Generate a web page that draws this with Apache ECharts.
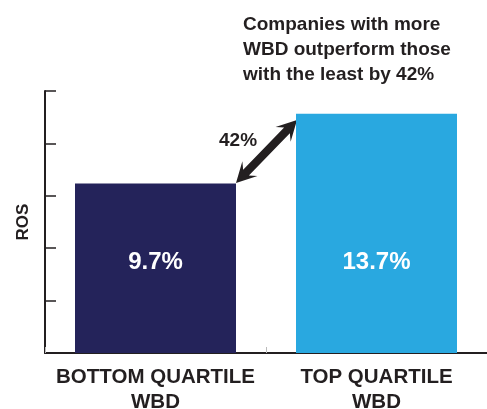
<!DOCTYPE html>
<html>
<head>
<meta charset="utf-8">
<script src="https://cdn.jsdelivr.net/npm/echarts@6/dist/echarts.min.js"></script>
<style>
html,body{margin:0;padding:0;background:#fff;}
#chart{width:487px;height:409px;}
</style>
</head>
<body>
<div id="chart"></div>
<script>
const categories = ['BOTTOM QUARTILE\nWBD', 'TOP QUARTILE\nWBD'];
const rosValues = [9.7, 13.7];
const valueLabels = ['9.7%', '13.7%'];
const barColors = ['#24235a', '#29a8e0'];
const yMin = 0, yMax = 15, yInterval = 3;
const titleLines = ['Companies with more', 'WBD outperform those', 'with the least by 42%'];
const gapLabel = '42%';

const FONT = '"Liberation Sans", Arial, Helvetica, sans-serif';
const INK = '#231f20';

function arrowPoints(p1, p2, sw, hl, hw) {
  const dx = p2[0] - p1[0], dy = p2[1] - p1[1];
  const L = Math.hypot(dx, dy);
  const u = [dx / L, dy / L], n = [-u[1], u[0]];
  const at = (p, a, b) => [p[0] + u[0] * a + n[0] * b, p[1] + u[1] * a + n[1] * b];
  return [
    p1, at(p1, hl, hw), at(p1, hl * 0.72, sw), at(p2, -hl * 0.72, sw), at(p2, -hl, hw),
    p2, at(p2, -hl, -hw), at(p2, -hl * 0.72, -sw), at(p1, hl * 0.72, -sw), at(p1, hl, -hw)
  ];
}

const chart = echarts.init(document.getElementById('chart'));
chart.setOption({
  animation: false,
  title: {
    text: titleLines.join('\n'),
    left: 238, top: 7,
    textStyle: { fontFamily: FONT, fontSize: 19, fontWeight: 'bold', color: INK, lineHeight: 25 }
  },
  grid: { left: 45, right: 0, top: 91, bottom: 56, outerBoundsMode: 'none', containLabel: false },
  xAxis: {
    type: 'category',
    data: categories,
    axisLine: { lineStyle: { color: INK, width: 2 } },
    axisTick: { show: true, inside: true, length: 6, lineStyle: { color: '#bbbbbb', width: 1 } },
    axisLabel: {
      interval: 0, hideOverlap: false,
      fontFamily: FONT, fontSize: 20.5, fontWeight: 'bold', color: INK, lineHeight: 25, margin: 12
    }
  },
  yAxis: {
    type: 'value',
    min: yMin, max: yMax, interval: yInterval,
    name: 'ROS',
    nameLocation: 'middle',
    nameRotate: 90,
    nameGap: 13,
    nameTextStyle: { fontFamily: FONT, fontSize: 17, fontWeight: 'bold', color: INK },
    axisLine: { show: true, lineStyle: { color: INK, width: 2 } },
    axisTick: { show: true, inside: true, length: 11, lineStyle: { color: INK, width: 1.5 } },
    axisLabel: { show: false },
    splitLine: { show: false }
  },
  series: [{
    type: 'bar',
    barWidth: 161,
    data: rosValues.map((v, i) => ({ value: v, itemStyle: { color: barColors[i] } })),
    label: {
      show: true,
      position: 'insideBottom',
      distance: 79,
      formatter: p => valueLabels[p.dataIndex],
      fontFamily: FONT, fontSize: 24, fontWeight: 'bold', color: '#ffffff'
    }
  }],
  graphic: [
    {
      type: 'polygon',
      shape: { points: arrowPoints([236, 183], [297, 120], 4, 20, 10.5) },
      style: { fill: INK }
    },
    {
      type: 'text',
      left: 219, top: 131,
      style: { text: gapLabel, fontFamily: FONT, fontSize: 19, fontWeight: 'bold', fill: INK }
    }
  ]
});
</script>
</body>
</html>
